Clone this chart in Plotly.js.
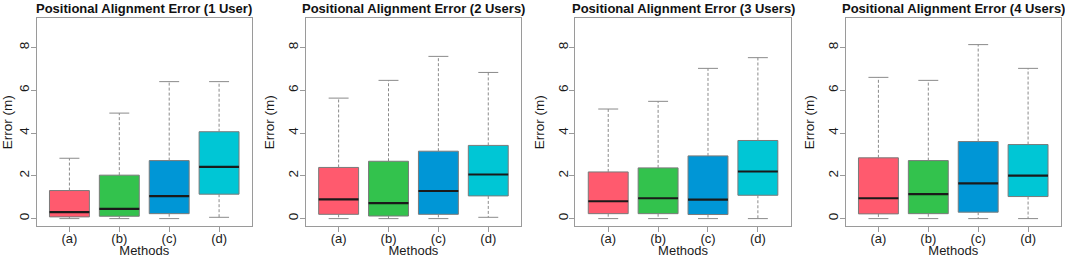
<!DOCTYPE html>
<html>
<head>
<meta charset="utf-8">
<script src="https://cdn.plot.ly/plotly-3.0.1.min.js"></script>
<style>html,body{margin:0;padding:0;background:#fff;}#chart{width:1065px;height:258px;}</style>
</head>
<body>
<div id="chart"></div>
<script>
// ---- data ----
const methods = ["(a)", "(b)", "(c)", "(d)"];
const panelTitles = [
  "Positional Alignment Error (1 User)",
  "Positional Alignment Error (2 Users)",
  "Positional Alignment Error (3 Users)",
  "Positional Alignment Error (4 Users)"
];
const colors = ["#FF5A6E", "#33C24D", "#0096D6", "#00C6D5"];

// per panel: arrays over methods (a..d)
const whiskerLow1 = [0.00, 0.00, 0.00, 0.06];
const q1_1        = [0.08, 0.11, 0.23, 1.14];
const median1     = [0.30, 0.45, 1.05, 2.42];
const q3_1        = [1.31, 2.03, 2.71, 4.06];
const whiskerHigh1= [2.82, 4.93, 6.40, 6.40];

const whiskerLow2 = [0.00, 0.00, 0.00, 0.06];
const q1_2        = [0.20, 0.12, 0.20, 1.06];
const median2     = [0.90, 0.72, 1.29, 2.06];
const q3_2        = [2.39, 2.68, 3.15, 3.42];
const whiskerHigh2= [5.63, 6.46, 7.58, 6.83];

const whiskerLow3 = [0.00, 0.00, 0.00, 0.00];
const q1_3        = [0.23, 0.23, 0.19, 1.09];
const median3     = [0.81, 0.95, 0.89, 2.20];
const q3_3        = [2.18, 2.37, 2.93, 3.65];
const whiskerHigh3= [5.12, 5.48, 7.02, 7.52];

const whiskerLow4 = [0.00, 0.00, 0.00, 0.00];
const q1_4        = [0.22, 0.23, 0.30, 1.03];
const median4     = [0.95, 1.14, 1.65, 2.01];
const q3_4        = [2.84, 2.71, 3.60, 3.46];
const whiskerHigh4= [6.60, 6.46, 8.13, 7.02];

const yTicks = [0, 2, 4, 6, 8];

// ---- build ----
const panels = [
  {lo: whiskerLow1, q1: q1_1, med: median1, q3: q3_1, hi: whiskerHigh1},
  {lo: whiskerLow2, q1: q1_2, med: median2, q3: q3_2, hi: whiskerHigh2},
  {lo: whiskerLow3, q1: q1_3, med: median3, q3: q3_3, hi: whiskerHigh3},
  {lo: whiskerLow4, q1: q1_4, med: median4, q3: q3_4, hi: whiskerHigh4}
];
const W = 1065, H = 258;
const pxLeft = [36.5, 305.7, 575.3, 845.5];
const pxWidth = 215.5;
const yDom = [1 - 226.3 / H, 1 - 18.3 / H];
const frameCol = "#9a9a9a";
const boxLine = "#7a7a7a";
const textCol = "#1a1a1a";
const font = "Liberation Sans, Arial, sans-serif";
const boxW = 0.8, capW = 0.4;

const traces = [];
const layout = {
  width: W, height: H,
  margin: {l: 0, r: 0, t: 0, b: 0},
  paper_bgcolor: "#fff", plot_bgcolor: "#fff",
  showlegend: false,
  barmode: "overlay",
  font: {family: font, size: 13, color: textCol},
  annotations: []
};

panels.forEach((p, k) => {
  const sfx = k === 0 ? "" : String(k + 1);
  const xa = "x" + sfx, ya = "y" + sfx;
  const xs = methods.map((_, i) => i + 1);

  // whiskers (dashed) and caps
  const wx = [], wy = [];
  const cx = [], cy = [];
  xs.forEach((x, i) => {
    wx.push(x, x, null, x, x, null);
    wy.push(p.q3[i], p.hi[i], null, p.q1[i], p.lo[i], null);
    cx.push(x - capW / 2, x + capW / 2, null, x - capW / 2, x + capW / 2, null);
    cy.push(p.hi[i], p.hi[i], null, p.lo[i], p.lo[i], null);
  });
  traces.push({type: "scatter", mode: "lines", x: wx, y: wy, xaxis: xa, yaxis: ya,
    line: {color: "#8a8a8a", width: 1, dash: "3px,2px"}, hoverinfo: "skip"});
  traces.push({type: "scatter", mode: "lines", x: cx, y: cy, xaxis: xa, yaxis: ya,
    line: {color: "#8a8a8a", width: 1}, hoverinfo: "skip"});

  // boxes
  traces.push({type: "bar", x: xs, y: p.q3.map((v, i) => v - p.q1[i]), base: p.q1,
    width: boxW, xaxis: xa, yaxis: ya,
    marker: {color: colors, line: {color: boxLine, width: 1}}});

  // medians
  const mx = [], my = [];
  xs.forEach((x, i) => {
    mx.push(x - boxW / 2, x + boxW / 2, null);
    my.push(p.med[i], p.med[i], null);
  });
  traces.push({type: "scatter", mode: "lines", x: mx, y: my, xaxis: xa, yaxis: ya,
    line: {color: "#1a1a1a", width: 2.2}, hoverinfo: "skip"});

  const d0 = pxLeft[k] / W, d1 = (pxLeft[k] + pxWidth) / W;
  layout["xaxis" + sfx] = {
    domain: [d0, d1], anchor: ya, range: [0.34, 4.66],
    tickvals: xs, ticktext: methods, ticks: "outside", ticklen: 5, tickcolor: frameCol,
    ticklabelstandoff: -5,
    showline: true, linecolor: frameCol, linewidth: 1, mirror: true,
    showgrid: false, zeroline: false, fixedrange: true,
    tickfont: {size: 13, family: font, color: textCol},
    title: {text: "Methods", font: {size: 13, family: font, color: textCol}, standoff: 6}
  };
  layout["yaxis" + sfx] = {
    domain: yDom, anchor: xa, range: [-0.36, 9.36],
    tickvals: yTicks, ticktext: yTicks.map(String), tickangle: -90,
    ticks: "outside", ticklen: 5, tickcolor: frameCol,
    ticklabelstandoff: -4,
    showline: true, linecolor: frameCol, linewidth: 1, mirror: true,
    showgrid: false, zeroline: false, fixedrange: true,
    tickfont: {size: 13.5, family: font, color: textCol},
    title: {text: "Error (m)", font: {size: 13.5, family: font, color: textCol}, standoff: 8}
  };
  layout.annotations.push({
    text: "<b>" + panelTitles[k] + "</b>", xref: "paper", yref: "paper",
    x: (d0 + d1) / 2, y: 1 - 8.5 / H, xanchor: "center", yanchor: "middle",
    showarrow: false, font: {size: 13, family: font, color: "#111"}
  });
});

Plotly.newPlot("chart", traces, layout, {staticPlot: true, displayModeBar: false});
</script>
</body>
</html>
